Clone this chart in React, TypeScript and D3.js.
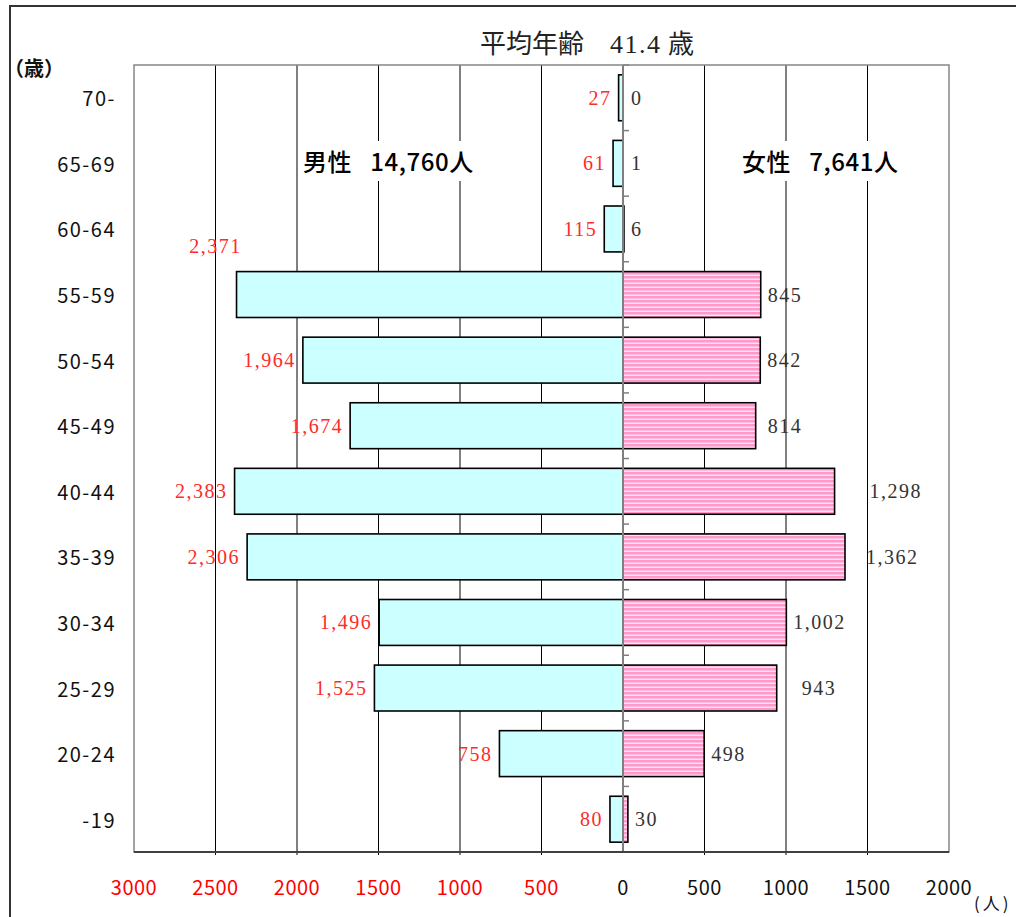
import React from "react";
import * as d3 from "d3";

// Age groups, top to bottom
const ages = ["70-", "65-69", "60-64", "55-59", "50-54", "45-49", "40-44", "35-39", "30-34", "25-29", "20-24", "-19"];
// Head counts per age group
const male = [27, 61, 115, 2371, 1964, 1674, 2383, 2306, 1496, 1525, 758, 80];
const female = [0, 1, 6, 845, 842, 814, 1298, 1362, 1002, 943, 498, 30];
// Axis tick values
const maleTicks = [3000, 2500, 2000, 1500, 1000, 500];
const femaleTicks = [0, 500, 1000, 1500, 2000];
const gridValues = [-2500, -2000, -1500, -1000, -500, 500, 1000, 1500];
// Summary figures
const maleTotal = "14,760";
const femaleTotal = "7,641";
const averageAge = "41.4";

// Label layout tweaks (pixel nudges for a few data labels)
const femaleLabelShift: Record<string, number> = { "45-49": 5, "40-44": 28, "35-39": 14, "25-29": 18 };
const maleLabelAbove = new Set(["55-59"]);

const W = 1016;
const H = 917;
const plot = { left: 134, right: 949, top: 65, bottom: 852 };

const GOTHIC = "'Noto Sans CJK JP', 'Noto Sans', sans-serif";
const MINCHO = "'Liberation Serif', 'DejaVu Serif', 'Noto Sans CJK JP', serif";
const RED = "#ff2a2a";

export default function App() {
  const x = d3.scaleLinear().domain([-3000, 2000]).range([plot.left, plot.right]);
  const y = d3
    .scaleBand<string>()
    .domain(ages)
    .range([plot.top, plot.bottom])
    .paddingInner(0.3)
    .paddingOuter(0.15);
  const step = y.step();
  const bw = y.bandwidth();
  const fmt = d3.format(",");
  const x0 = x(0);
  const boundaries = d3.range(ages.length + 1).map((i) => plot.top + i * step);

  return (
    <svg
      width={W}
      height={H}
      style={{ position: "absolute", left: 0, top: 0, background: "#fff" }}
    >
      <defs>
        <pattern id="pinkStripes" width={4} height={4} patternUnits="userSpaceOnUse">
          <rect width={4} height={4} fill="#ff99cc" />
          <rect y={2.6} width={4} height={1.2} fill="#fff4fa" />
        </pattern>
      </defs>

      {/* outer frame */}
      <rect x={10} y={6} width={W + 20} height={H + 20} fill="#fff" stroke="#333" strokeWidth={2} />

      {/* title */}
      <text x={480} y={53} fontFamily={MINCHO} fontSize={26} fill="#222" style={{ whiteSpace: "pre" }}>
        <tspan>平均年齢　</tspan>
        <tspan letterSpacing={1.5}>{averageAge}</tspan>
        <tspan> 歳</tspan>
      </text>

      {/* unit labels */}
      <text x={4} y={76} fontFamily={GOTHIC} fontSize={20} fontWeight={600} fill="#111">
        （歳）
      </text>
      <text x={974} y={910} fontFamily={GOTHIC} fontSize={17} letterSpacing={3} fill="#111">
        (人)
      </text>

      {/* vertical grid lines */}
      {gridValues.map((v) => (
        <line key={v} x1={x(v)} x2={x(v)} y1={plot.top} y2={plot.bottom + 3} stroke="#000" strokeWidth={1} />
      ))}

      {/* male bars */}
      {ages.map((a, i) => (
        <rect
          key={"m" + a}
          x={x(-male[i])}
          y={y(a)}
          width={x0 - x(-male[i])}
          height={bw}
          fill="#ccffff"
          stroke="#000"
          strokeWidth={1.6}
        />
      ))}

      {/* female bars */}
      {ages.map((a, i) =>
        female[i] > 0 ? (
          <rect
            key={"f" + a}
            x={x0}
            y={y(a)}
            width={x(female[i]) - x0}
            height={bw}
            fill="url(#pinkStripes)"
            stroke="#000"
            strokeWidth={1.6}
          />
        ) : null
      )}

      {/* zero axis with category ticks */}
      <line x1={x0} x2={x0} y1={plot.top} y2={plot.bottom} stroke="#7f7f7f" strokeWidth={2} />
      {boundaries.map((b, i) => (
        <line key={"t" + i} x1={x0} x2={x0 + 6} y1={b} y2={b} stroke="#7f7f7f" strokeWidth={1.5} />
      ))}

      {/* plot border */}
      <rect
        x={plot.left}
        y={plot.top}
        width={plot.right - plot.left}
        height={plot.bottom - plot.top}
        fill="none"
        stroke="#868686"
        strokeWidth={1.5}
      />
      <line x1={plot.left} x2={plot.right} y1={plot.bottom} y2={plot.bottom} stroke="#404040" strokeWidth={2} />

      {/* totals */}
      <rect x={298} y={141} width={178} height={40} fill="#fff" />
      <text x={303} y={171} fontFamily={GOTHIC} fontSize={24} fontWeight={500} letterSpacing={0.6} fill="#000" style={{ whiteSpace: "pre" }}>
        {`男性   ${maleTotal}人`}
      </text>
      <rect x={738} y={141} width={162} height={40} fill="#fff" />
      <text x={742} y={171} fontFamily={GOTHIC} fontSize={24} fontWeight={500} letterSpacing={0.6} fill="#000" style={{ whiteSpace: "pre" }}>
        {`女性   ${femaleTotal}人`}
      </text>

      {/* age labels */}
      {ages.map((a) => (
        <text
          key={"a" + a}
          x={116}
          y={(y(a) as number) + bw / 2}
          textAnchor="end"
          dominantBaseline="central"
          fontFamily={GOTHIC}
          fontSize={20}
          letterSpacing={1.5}
          fill="#111"
        >
          {a}
        </text>
      ))}

      {/* male value labels */}
      {ages.map((a, i) => {
        const cy = (y(a) as number) + bw / 2;
        const above = maleLabelAbove.has(a);
        return (
          <text
            key={"ml" + a}
            x={above ? x(-male[i]) - 21 : x(-male[i]) - 7}
            y={above ? cy - 49 : cy}
            textAnchor={above ? "middle" : "end"}
            dominantBaseline="central"
            fontFamily={MINCHO}
            fontSize={20}
            letterSpacing={1.5}
            fill={RED}
          >
            {fmt(male[i])}
          </text>
        );
      })}

      {/* female value labels */}
      {ages.map((a, i) => (
        <text
          key={"fl" + a}
          x={Math.max(x(female[i]), x0 + 1) + 7 + (femaleLabelShift[a] || 0)}
          y={(y(a) as number) + bw / 2}
          dominantBaseline="central"
          fontFamily={MINCHO}
          fontSize={20}
          letterSpacing={1.5}
          fill="#333"
        >
          {fmt(female[i])}
        </text>
      ))}

      {/* bottom tick labels */}
      {maleTicks.map((v) => (
        <text
          key={"mt" + v}
          x={x(-v)}
          y={886}
          textAnchor="middle"
          dominantBaseline="central"
          fontFamily={GOTHIC}
          fontSize={20}
          letterSpacing={0.5}
          fill="#ff0000"
        >
          {v}
        </text>
      ))}
      {femaleTicks.map((v) => (
        <text
          key={"ft" + v}
          x={x(v)}
          y={886}
          textAnchor="middle"
          dominantBaseline="central"
          fontFamily={GOTHIC}
          fontSize={20}
          letterSpacing={0.5}
          fill="#111"
        >
          {v}
        </text>
      ))}
    </svg>
  );
}
